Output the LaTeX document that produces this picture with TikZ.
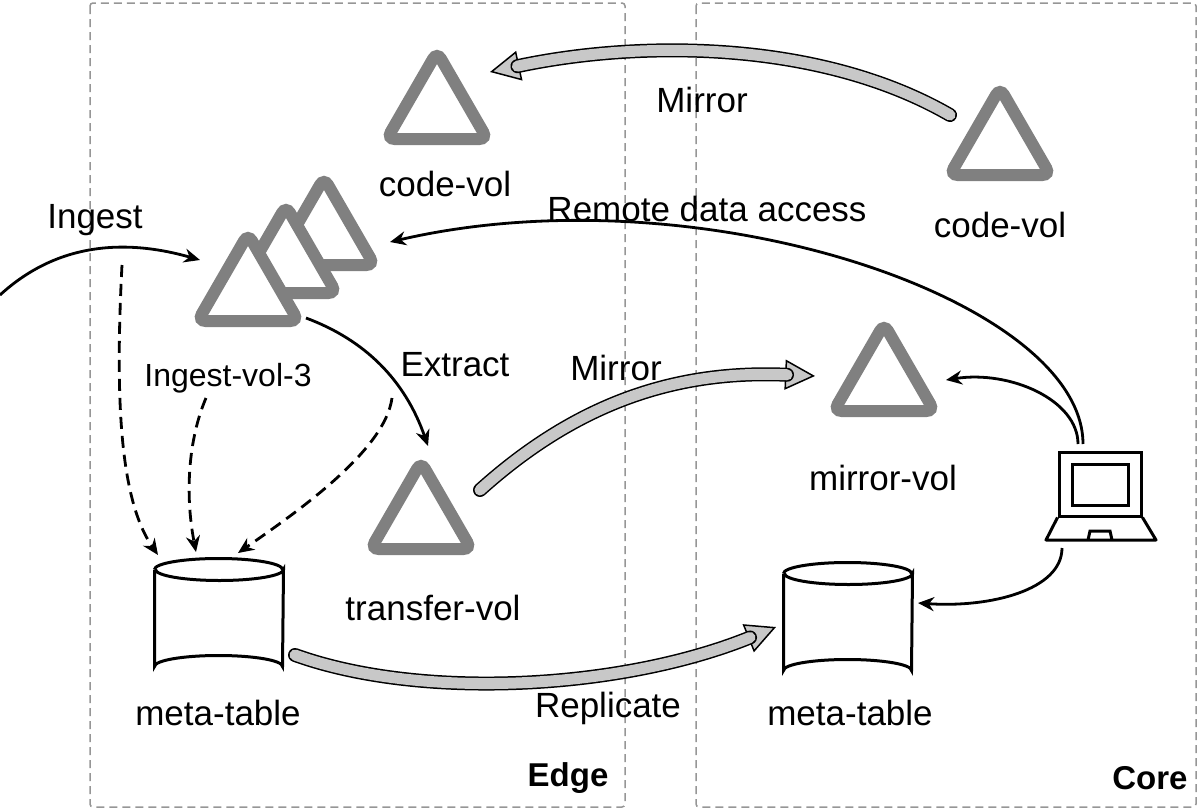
\documentclass[tikz,border=0pt]{standalone}
\usepackage{fontspec}
\setmainfont{Liberation Sans}
\usetikzlibrary{shapes.geometric,arrows.meta,positioning}
\tikzset{every picture/.style={line width=1pt}}
\tikzset{
  tri/.style={regular polygon, regular polygon sides=3, minimum size=116pt, inner sep=0pt,
    draw={rgb,255:red,128;green,128;blue,128}, line width=12pt, rounded corners=8pt, fill=white},
  lbl/.style={inner sep=1pt, font=\fontsize{35}{40}\selectfont},
  zone/.style={draw={rgb,255:red,150;green,150;blue,150}, dash pattern=on 8pt off 5pt, line width=1.5pt, rounded corners=3pt},
  thin arrow/.style={-{Stealth[length=16pt,width=14pt]}, line width=2.8pt},
  dep/.style={-{Stealth[length=16pt,width=14pt]}, line width=2.8pt, dash pattern=on 12pt off 7pt},
  fat tip/.style={-{Triangle[length=30pt,width=30pt,fill={rgb,255:red,200;green,200;blue,200}]}, line width=1.5pt},
  fat body/.style={double={rgb,255:red,200;green,200;blue,200}, double distance=11pt, line width=1.5pt, line cap=round, shorten >=28pt},
}
\newcommand{\cylpath}[1]{%
  \draw[line width=3pt, fill=white] (#1.north west) -- (#1.south west)
    arc[start angle=180, end angle=360, x radius=64pt, y radius=11pt]
    -- (#1.north east) arc[start angle=0, end angle=180, x radius=64pt, y radius=11pt];
  \draw[line width=3pt] (#1.north west) arc[start angle=180, end angle=360, x radius=64pt, y radius=11pt];}
\begin{document}
\begin{tikzpicture}[x=1pt,y=1pt,yscale=-1]
\useasboundingbox (0,0) rectangle (1200,811);
% zones
\draw[zone] (90,3) rectangle (625,807);
\draw[zone] (696,3) rectangle (1196,807);
\node[lbl, font=\fontsize{33}{38}\selectfont\bfseries] (edge) at (568,778) {Edge};
\node[lbl, font=\fontsize{33}{38}\selectfont\bfseries] (core) at (1150,778) {Core};
% volumes
\node[tri] (codeE) at (437,110) {};
\node[lbl] (codeEl) at (445,184) {code-vol};
\node[tri] (codeC) at (1000,146) {};
\node[lbl] (codeCl) at (1000,225) {code-vol};
\node[tri] (ing3) at (324,236) {};
\node[tri] (ing2) at (286,264) {};
\node[tri] (ing1) at (248,292) {};
\node[lbl, font=\fontsize{32}{38}\selectfont] (ingl) at (228,378) {Ingest-vol-3};
\node[tri] (trans) at (421,520) {};
\node[lbl] (transl) at (433,608) {transfer-vol};
\node[tri] (mirr) at (884,382) {};
\node[lbl] (mirrl) at (883,478) {mirror-vol};
% tables
\node[minimum width=128pt, minimum height=96pt, inner sep=0pt] (metaE) at (219,618) {};
\cylpath{metaE}
\node[lbl] (metaEl) at (218,713) {meta-table};
\node[minimum width=128pt, minimum height=96pt, inner sep=0pt] (metaC) at (848,622) {};
\cylpath{metaC}
\node[lbl] (metaCl) at (850,713) {meta-table};
% laptop
\node[draw, line width=3pt, minimum width=82pt, minimum height=64pt, inner sep=0pt] (lap) at (1100,484) {};
\draw[line width=3pt] (1072,464) rectangle (1128,505);
\draw[line width=3pt, line join=round] (lap.south west) -- (1046,540) -- (1156,540) -- (lap.south east);
\draw[line width=3pt] (1088,540) -- (1090,531) -- (1110,531) -- (1112,540);
\coordinate (lapT) at (1083,444);
\coordinate (lapB) at (1062,548);
% start of ingest
\coordinate (src) at (0,295);
% connectors
\draw[thin arrow] (src) .. controls (60,240) and (130,240) .. (200,260);
\node[lbl] (ingestl) at (95,220) {Ingest};
\draw[thin arrow] (lapT) .. controls (1083,300) and (700,170) .. (390,242);
\node[lbl] (remotel) at (707,209) {Remote data access};
\draw[thin arrow] (1078,444) .. controls (1078,400) and (1010,370) .. (946,380);
\draw[thin arrow] (lapB) .. controls (1062,590) and (990,608) .. (918,603);
\draw[thin arrow] (306,318) .. controls (365,340) and (405,380) .. (428,446);
\node[lbl] (extractl) at (455,365) {Extract};
\draw[dep] (122,265) .. controls (115,400) and (120,500) .. (158,555);
\draw[dep] (206,398) .. controls (188,440) and (185,495) .. (196,552);
\draw[dep] (392,398) .. controls (385,450) and (300,510) .. (238,553);
% mirror / replicate
\draw[fat tip] (950,115) .. controls (820,40) and (640,40) .. (490,72);
\draw[fat body] (950,115) .. controls (820,40) and (640,40) .. (490,72);
\node[lbl] (mirror1l) at (702,100) {Mirror};
\draw[fat tip] (480,490) .. controls (580,400) and (680,370) .. (815,376);
\draw[fat body] (480,490) .. controls (580,400) and (680,370) .. (815,376);
\node[lbl] (mirror2l) at (616,368) {Mirror};
\draw[fat tip] (295,655) .. controls (420,700) and (620,690) .. (776,627);
\draw[fat body] (295,655) .. controls (420,700) and (620,690) .. (776,627);
\node[lbl] (replicl) at (608,708) {Replicate};
\end{tikzpicture}
\end{document}
